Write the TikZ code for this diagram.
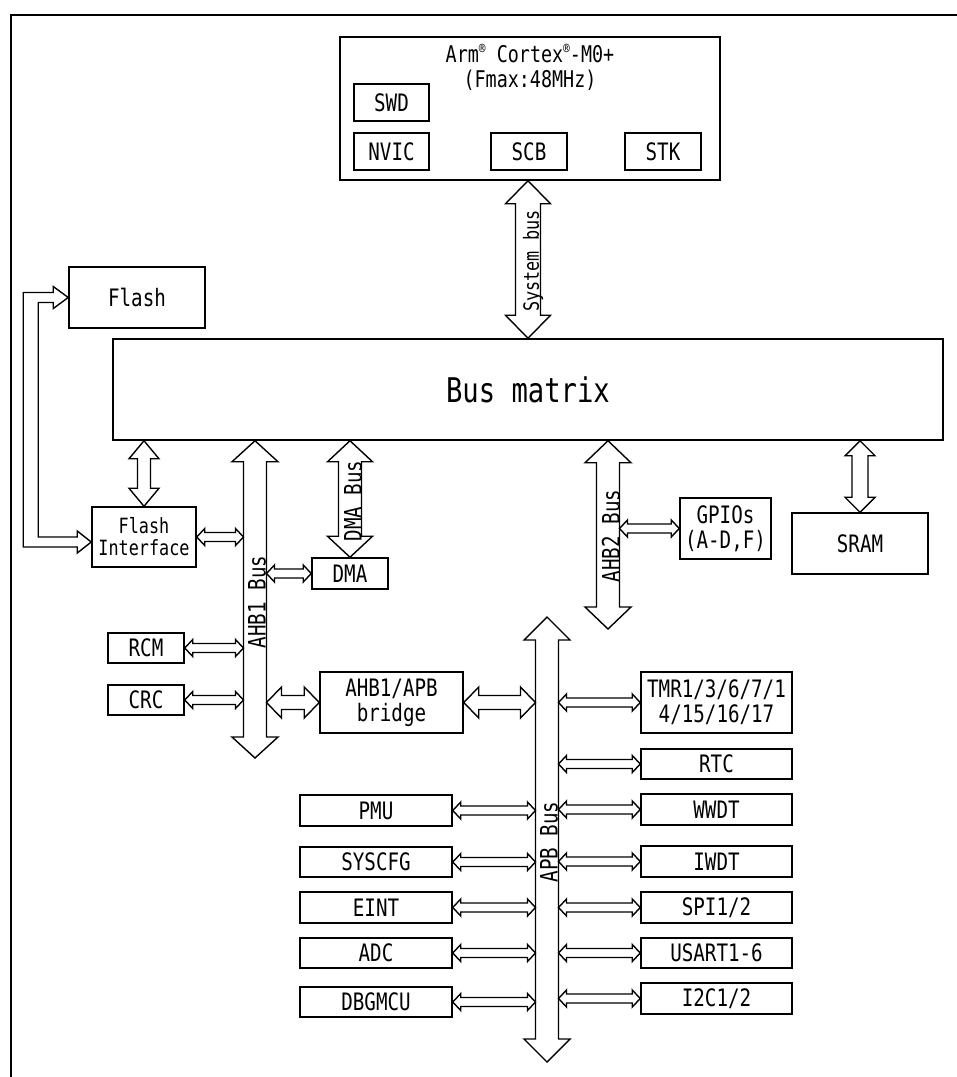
\documentclass[tikz,border=0pt]{standalone}
\usepackage{fontspec}
\setmainfont{DejaVu Sans Mono}[FakeStretch=0.8]
\usetikzlibrary{calc}
\newcommand\regmark{\raisebox{0.4em}{\fontsize{14}{14}\selectfont ®}}
\tikzset{
  box/.style={draw, line width=1.5pt, inner sep=0pt, align=center, font=\fontsize{24}{25}\selectfont},
  sz/.style 2 args={minimum width=#1pt, minimum height=#2pt},
  arr/.style={draw, line width=1.4pt, fill=white, line join=miter},
  buslabel/.style={rotate=90, inner sep=0pt, font=\fontsize{24}{25}\selectfont},
}
% vertical hollow double arrow: top point, bottom point, shaft half, head half, head length
\newcommand\fatV[5]{%
  \draw[arr] let \p1=#1, \p2=#2 in
    (\x1,\y1) -- (\x1+#4pt,\y1-#5pt) -- (\x1+#3pt,\y1-#5pt) -- (\x1+#3pt,\y2+#5pt)
    -- (\x1+#4pt,\y2+#5pt) -- (\x1,\y2) -- (\x1-#4pt,\y2+#5pt) -- (\x1-#3pt,\y2+#5pt)
    -- (\x1-#3pt,\y1-#5pt) -- (\x1-#4pt,\y1-#5pt) -- cycle;}
% horizontal hollow double arrow: left point, right point, shaft half, head half, head length
\newcommand\fatH[5]{%
  \draw[arr] let \p1=#1, \p2=#2 in
    (\x1,\y1) -- (\x1+#5pt,\y1+#4pt) -- (\x1+#5pt,\y1+#3pt) -- (\x2-#5pt,\y1+#3pt)
    -- (\x2-#5pt,\y1+#4pt) -- (\x2,\y1) -- (\x2-#5pt,\y1-#4pt) -- (\x2-#5pt,\y1-#3pt)
    -- (\x1+#5pt,\y1-#3pt) -- (\x1+#5pt,\y1-#4pt) -- cycle;}
\begin{document}
\begin{tikzpicture}[x=1pt,y=-1pt]
\useasboundingbox (0,0) rectangle (957,1077);
% outer frame
\draw[line width=2.5pt] (11,1085) -- (11,15) -- (965,15);

% core
\node[box, sz={380}{143}] (cortex) at (530,108.5) {};
\node[inner sep=0pt, align=center, font=\fontsize{23}{25}\selectfont] (ctitle) at (530,67) {Arm\regmark{} Cortex\regmark{}-M0+\\(Fmax:48MHz)};
\node[box, sz={75}{37}] (swd) at (391.5,102.5) {SWD};
\node[box, sz={75}{37}] (nvic) at (391.5,151.5) {NVIC};
\node[box, sz={76}{37}] (scb) at (529,151.5) {SCB};
\node[box, sz={76}{37}] (stk) at (663,151.5) {STK};

% memories and matrix
\node[box, sz={136}{61}] (flash) at (137,297.5) {Flash};
\node[box, sz={830}{101}, font=\fontsize{34}{36}\selectfont] (bm) at (528,389.5) {Bus matrix};
\node[box, sz={104}{60}, font=\fontsize{21}{22}\selectfont] (fi) at (144,537) {Flash\\Interface};
\node[box, sz={76}{31}] (dma) at (350,573.5) {DMA};
\node[box, sz={91}{61}] (gpio) at (725.5,528.5) {GPIOs\\(A-D,F)};
\node[box, sz={136}{61}] (sram) at (860,543.5) {SRAM};
\node[box, sz={76}{30}] (rcm) at (146,648) {RCM};
\node[box, sz={76}{30}] (crc) at (146,700) {CRC};
\node[box, sz={143}{61}] (bridge) at (391.5,702.5) {AHB1/APB\\bridge};

% APB peripherals
\node[box, sz={151}{61}] (tmr) at (716.5,702.5) {TMR1/3/6/7/1\\4/15/16/17};
\node[box, sz={151}{30}] (rtc) at (716.5,764) {RTC};
\node[box, sz={151}{31}] (wwdt) at (716.5,809.5) {WWDT};
\node[box, sz={151}{31}] (iwdt) at (716.5,861.5) {IWDT};
\node[box, sz={151}{31}] (spi) at (716.5,907.5) {SPI1/2};
\node[box, sz={151}{30}] (usart) at (716.5,953) {USART1-6};
\node[box, sz={151}{31}] (i2c) at (716.5,998.5) {I2C1/2};
\node[box, sz={152}{31}] (pmu) at (376,810.5) {PMU};
\node[box, sz={152}{30}] (syscfg) at (376,862) {SYSCFG};
\node[box, sz={152}{31}] (eint) at (376,907.5) {EINT};
\node[box, sz={152}{30}] (adc) at (376,953) {ADC};
\node[box, sz={152}{30}] (dbg) at (376,1002) {DBGMCU};

% bus positions
\coordinate (sysx) at (528,0);
\coordinate (ahb1x) at (255,0);
\coordinate (a1L) at (243.5,0);
\coordinate (a1R) at (266.5,0);
\coordinate (ahb1end) at (255,758);
\coordinate (ahb2x) at (608,0);
\coordinate (a2R) at (619.5,0);
\coordinate (ahb2end) at (608,629);
\coordinate (apbtop) at (547,617);
\coordinate (apbbot) at (547,1062);
\coordinate (apbL) at (535.5,0);
\coordinate (apbR) at (558.5,0);

% big buses
\fatV{(cortex.south -| sysx)}{(bm.north -| sysx)}{12.5}{22.5}{23}
\fatV{(bm.south -| ahb1x)}{(ahb1end)}{11.5}{23}{21}
\fatV{(bm.south -| dma.north)}{(dma.north)}{11.5}{22.5}{21}
\fatV{(bm.south -| ahb2x)}{(ahb2end)}{11.5}{23}{22}
\fatV{(apbtop)}{(apbbot)}{11.5}{23}{23}
\fatV{(bm.south -| fi.north)}{(fi.north)}{6.5}{15}{18}
\fatV{(bm.south -| sram.north)}{(sram.north)}{8}{15}{15}

% Flash <-> Flash Interface
\draw[arr] let \p1=(flash.west), \p2=(fi.west) in
  (\x1,\y1) -- (\x1-15pt,\y1+11pt) -- (\x1-15pt,\y1+5pt) -- (\x1-45pt,\y1+5pt)
  -- (\x1-45pt,\y2-10pt) -- (\x2-14pt,\y2-10pt) -- (\x2-14pt,\y2-16pt) -- (\x2,\y2-5pt)
  -- (\x2-14pt,\y2+6pt) -- (\x2-14pt,\y2) -- (\x1-30pt,\y2) -- (\x1-30pt,\y1-5pt)
  -- (\x1-15pt,\y1-5pt) -- (\x1-15pt,\y1-11pt) -- cycle;

% small links
\fatH{(fi.east)}{(fi.east -| a1L)}{4.5}{8.5}{8}
\fatH{(rcm.east)}{(rcm.east -| a1L)}{4.5}{8.5}{8}
\fatH{(crc.east)}{(crc.east -| a1L)}{4.5}{8.5}{8}
\fatH{(dma.west -| a1R)}{(dma.west)}{4.5}{8.5}{8}
\fatH{(gpio.west -| a2R)}{(gpio.west)}{4.5}{8.5}{8}
\fatH{(bridge.west -| a1R)}{(bridge.west)}{7}{15.5}{15}
\fatH{(bridge.east)}{(bridge.east -| apbL)}{7}{15.5}{15}
\foreach \nm in {tmr,rtc,wwdt,iwdt,spi,usart,i2c}{
  \fatH{(\nm.west -| apbR)}{(\nm.west)}{4.5}{8.5}{8}
}
\foreach \nm in {pmu,syscfg,eint,adc,dbg}{
  \fatH{(\nm.east)}{(\nm.east -| apbL)}{4.5}{8.5}{8}
}

% bus labels
\node[buslabel, font=\fontsize{21}{22}\selectfont] (lsys) at (533,261) {System bus};
\node[buslabel] (lahb1) at (257,602) {AHB1 Bus};
\node[buslabel] (ldma) at (353,501) {DMA Bus};
\node[buslabel] (lahb2) at (611,536) {AHB2 Bus};
\node[buslabel] (lapb) at (549,842) {APB Bus};
\end{tikzpicture}
\end{document}
